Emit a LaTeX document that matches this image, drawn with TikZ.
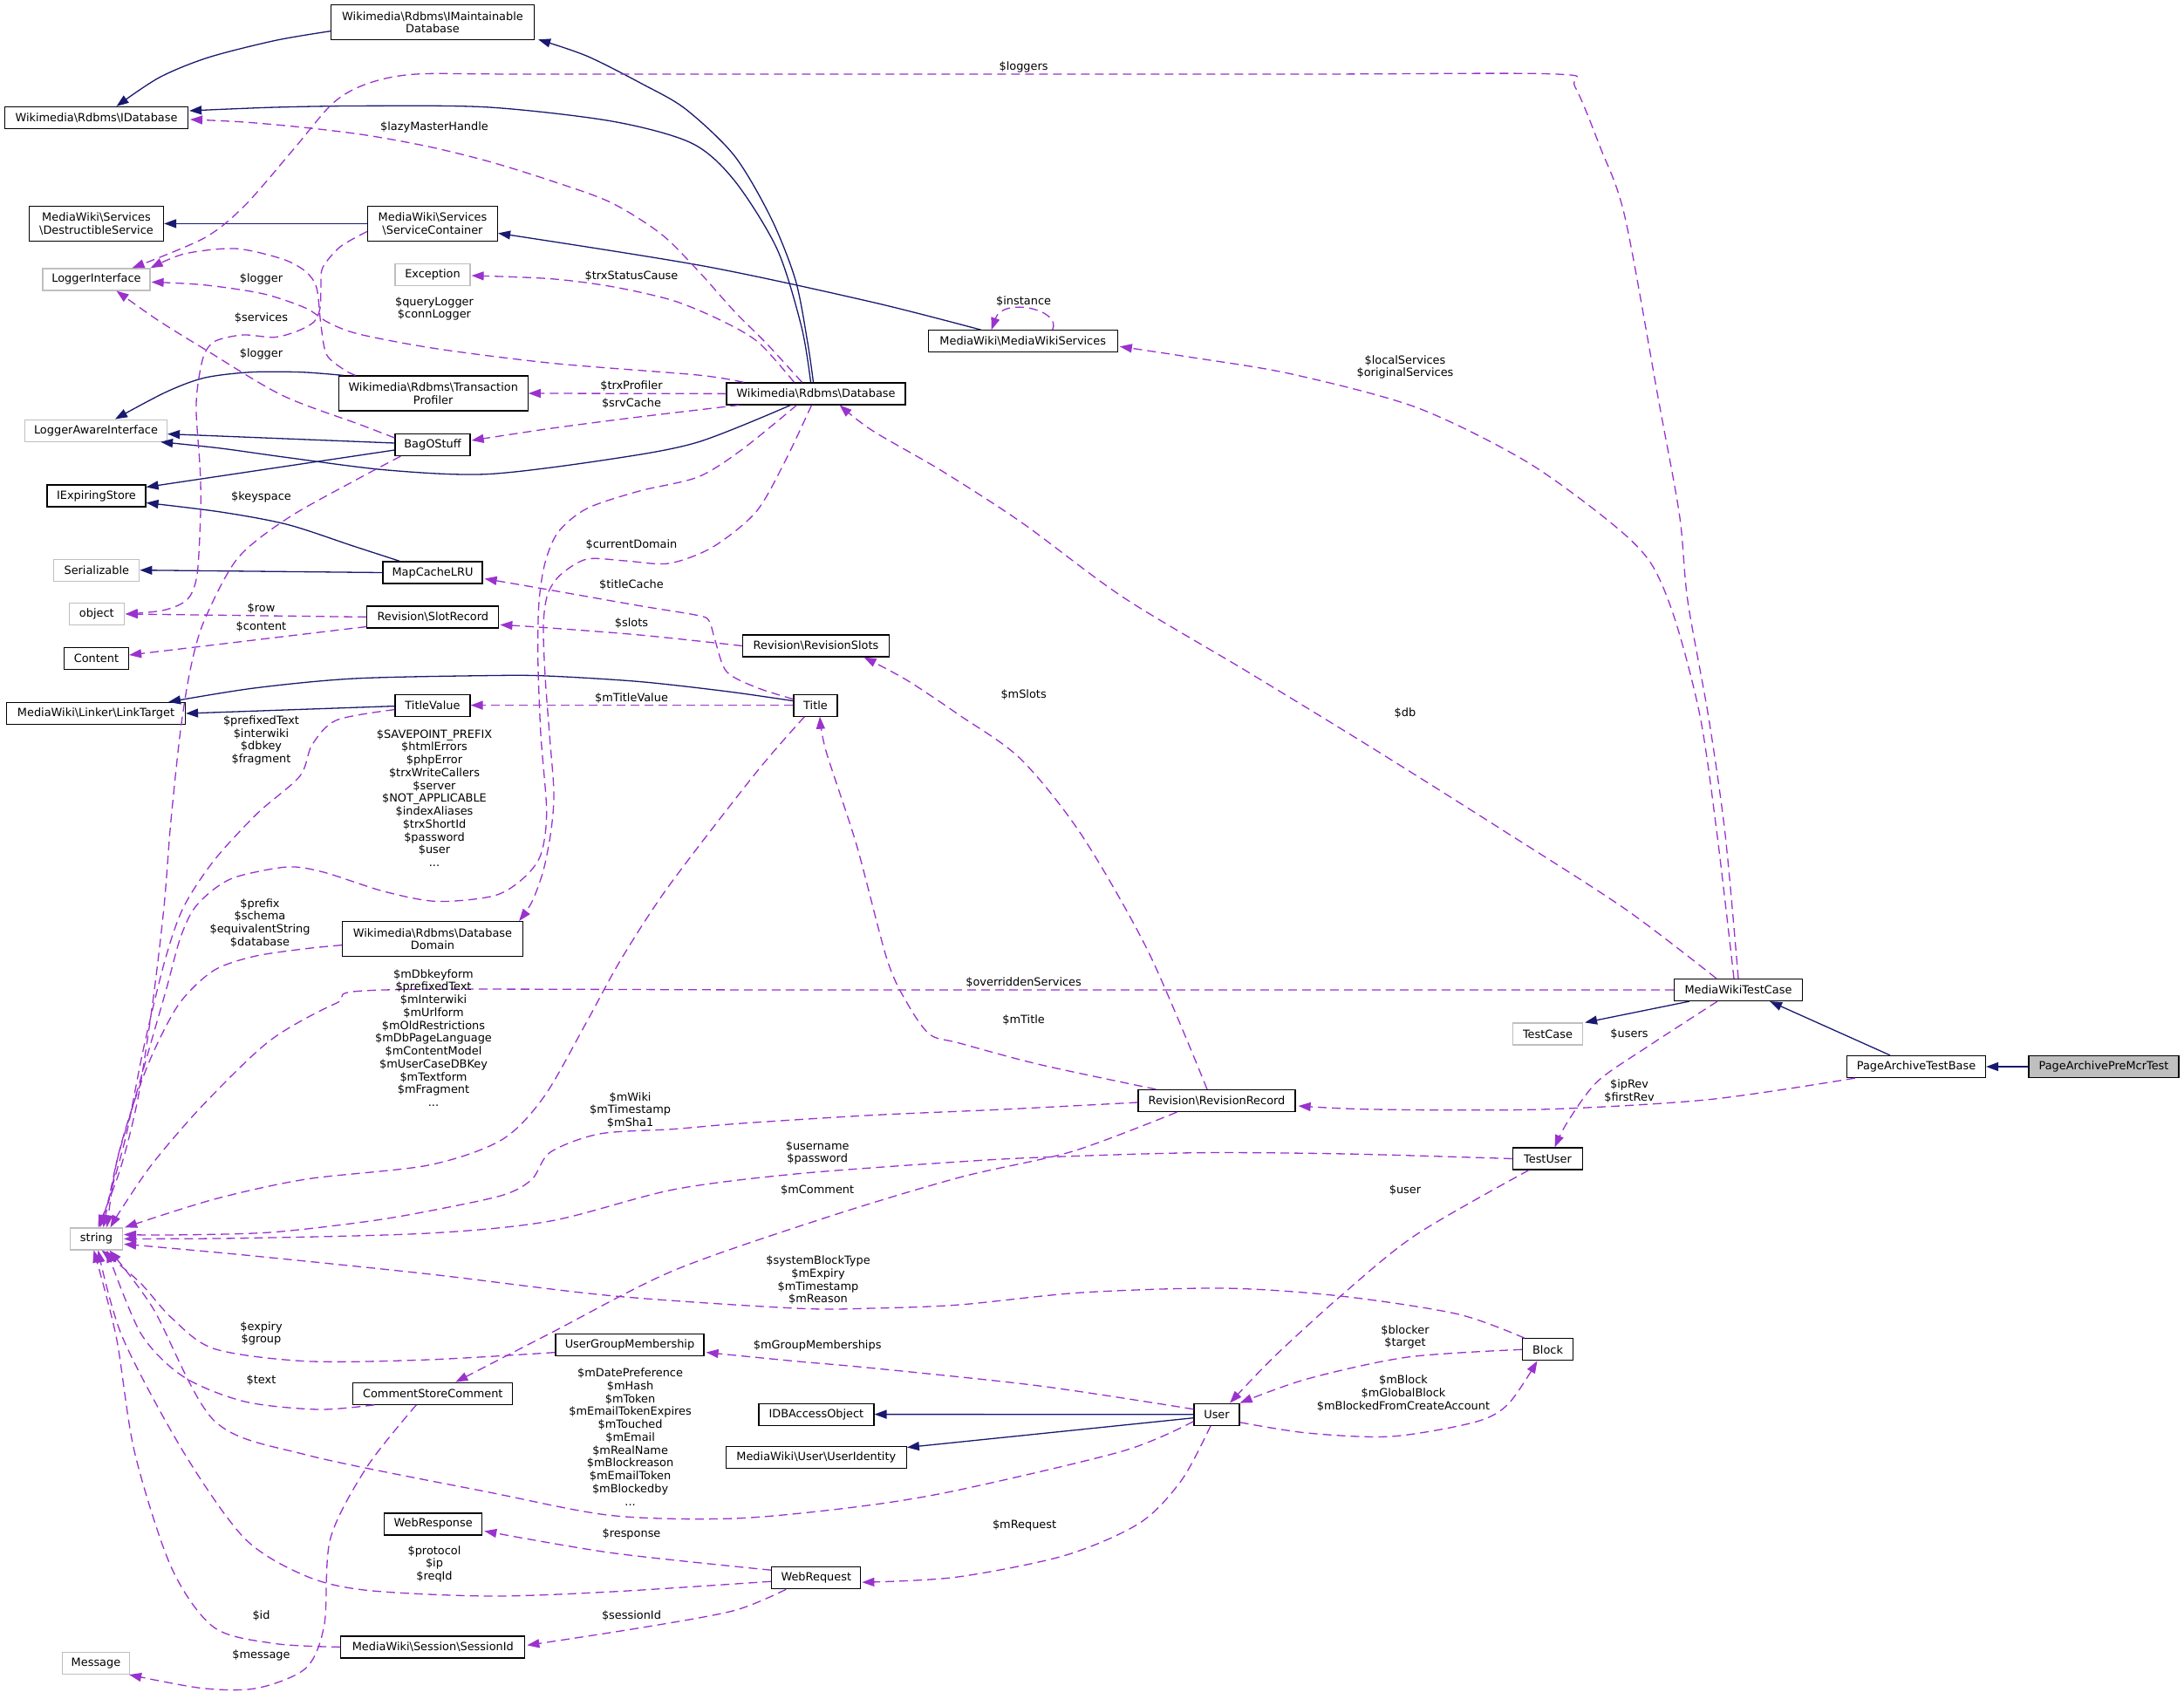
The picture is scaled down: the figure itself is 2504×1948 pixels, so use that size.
\documentclass[tikz,border=0pt]{standalone}
\usepackage{fontspec}
\newfontfamily\dvs{DejaVu Sans}
\usetikzlibrary{arrows.meta,calc}
\definecolor{inhblue}{HTML}{191970}
\definecolor{usepurple}{HTML}{9A32CD}
\definecolor{extgray}{HTML}{BFBFBF}
\definecolor{curgray}{HTML}{BFBFBF}
\newcommand{\BSL}{\textbackslash{}}
\newcommand{\lbl}{\dvs\fontsize{12.9pt}{14.75pt}\selectfont}
\tikzset{
  cls/.style={draw=black, fill=white, line width=1.2pt, inner sep=0pt, minimum height=25pt, align=center, font=\lbl},
  ext/.style={cls, draw=extgray},
  cur/.style={cls, fill=curgray},
  inh/.style={draw=inhblue, line width=1.3pt, -{Triangle[length=14pt,width=10pt]}},
  use/.style={draw=usepurple, line width=1.3pt, dash pattern=on 10pt off 6pt, -{Triangle[length=14pt,width=10pt]}},
  elbl/.style={font=\lbl, align=center, inner sep=0pt, text=black},
}
\begin{document}
\begin{tikzpicture}[x=1pt,y=-1pt]
\useasboundingbox (0,0) rectangle (2504,1948);
\fill[white] (0,0) rectangle (2504,1948);
% ---------- nodes ----------
\node[cls, minimum width=233pt, minimum height=40pt] (imdb) at (496,25.7) {Wikimedia\BSL Rdbms\BSL IMaintainable\\Database};
\node[cls, minimum width=210pt] (idb) at (110.5,135) {Wikimedia\BSL Rdbms\BSL IDatabase};
\node[cls, minimum width=154pt, minimum height=40pt] (destr) at (110.5,256.4) {MediaWiki\BSL Services\\\BSL DestructibleService};
\node[cls, minimum width=149pt, minimum height=40pt] (sc) at (496,256.4) {MediaWiki\BSL Services\\\BSL ServiceContainer};
\node[ext, minimum width=123pt] (logif) at (110.5,320.4) {LoggerInterface};
\node[ext, minimum width=86pt] (exc) at (496,315) {Exception};
\node[cls, minimum width=217pt, minimum height=40pt] (tp) at (496.7,451) {Wikimedia\BSL Rdbms\BSL Transaction\\Profiler};
\node[cls, minimum width=205pt] (db) at (935.5,451.4) {Wikimedia\BSL Rdbms\BSL Database};
\node[cls, minimum width=217pt] (mws) at (1172.7,391.3) {MediaWiki\BSL MediaWikiServices};
\node[ext, minimum width=163pt] (lai) at (110,493.6) {LoggerAwareInterface};
\node[cls, minimum width=86pt] (bag) at (496,510) {BagOStuff};
\node[cls, minimum width=113pt] (ies) at (110.5,568.5) {IExpiringStore};
\node[ext, minimum width=98pt] (ser) at (110.8,653.7) {Serializable};
\node[cls, minimum width=114pt] (mcl) at (496,656.5) {MapCacheLRU};
\node[ext, minimum width=63pt] (obj) at (110.8,704) {object};
\node[cls, minimum width=151pt] (slot) at (496.3,707.4) {Revision\BSL SlotRecord};
\node[cls, minimum width=168pt] (rslots) at (935.5,740.5) {Revision\BSL RevisionSlots};
\node[cls, minimum width=74pt] (content) at (110.5,755) {Content};
\node[cls, minimum width=205pt] (lt) at (110,818) {MediaWiki\BSL Linker\BSL LinkTarget};
\node[cls, minimum width=86pt] (tv) at (496,808.6) {TitleValue};
\node[cls, minimum width=50pt] (title) at (935,808.6) {Title};
\node[cls, minimum width=207pt, minimum height=40pt] (dd) at (496,1076.6) {Wikimedia\BSL Rdbms\BSL Database\\Domain};
\node[cls, minimum width=147pt] (mwtc) at (1993,1135) {MediaWikiTestCase};
\node[ext, minimum width=80pt] (tc) at (1774.5,1185.5) {TestCase};
\node[cls, minimum width=159pt] (patb) at (2197,1223) {PageArchiveTestBase};
\node[cur, minimum width=172pt] (pamt) at (2412,1223) {PageArchivePreMcrTest};
\node[cls, minimum width=180pt] (rr) at (1395,1262) {Revision\BSL RevisionRecord};
\node[cls, minimum width=80pt] (tu) at (1774.5,1328.5) {TestUser};
\node[ext, minimum width=60pt] (str) at (110.5,1420.4) {string};
\node[cls, minimum width=58pt] (block) at (1774.5,1547.3) {Block};
\node[cls, minimum width=170pt] (ugm) at (722,1541.6) {UserGroupMembership};
\node[cls, minimum width=183pt] (csc) at (496.3,1597.7) {CommentStoreComment};
\node[cls, minimum width=132pt] (dbao) at (935.9,1621.6) {IDBAccessObject};
\node[cls, minimum width=52pt] (user) at (1395,1621.7) {User};
\node[cls, minimum width=207pt] (uid) at (935.8,1670.6) {MediaWiki\BSL User\BSL UserIdentity};
\node[cls, minimum width=112pt] (wresp) at (496.7,1747.4) {WebResponse};
\node[cls, minimum width=102pt] (wreq) at (935.8,1809.2) {WebRequest};
\node[cls, minimum width=211pt] (sid) at (496.3,1888.4) {MediaWiki\BSL Session\BSL SessionId};
\node[ext, minimum width=77pt] (msg) at (110,1907) {Message};
% ---------- inheritance ----------
\draw[inh] plot[smooth] coordinates {($(imdb.west)+(0,10)$) (315.7,46.4) (238.5,66) (182.4,89) ($(idb.north)+(23,0)$)};
\draw[inh] plot[smooth] coordinates {($(db.north)+(-3,0)$) (926,393) (912,321) (884,250) (842,178.6) (786,125) (736.6,96.4) (673,64.3) ($(imdb.south east)+(4,-1)$)};
\draw[inh] plot[smooth] coordinates {($(db.north)+(-6,0)$) (919,375) (891,285.7) (842,207) (792.7,164) (701.5,139) (561,123) (421,121.4) (315.7,123) ($(idb.east)+(1,-8)$)};
\draw[inh] (sc.west) -- (destr.east);
\draw[inh] plot[smooth] coordinates {($(mws.north)+(-48,0)$) (1000,346.4) (806.7,305) ($(sc.east)+(0,11)$)};
\draw[inh] plot[smooth] coordinates {($(tp.north west)+(6,0)$) (345.5,426.7) (287.5,426.7) (234,433.3) (189.3,450) ($(lai.north)+(22,0)$)};
\draw[inh] ($(bag.west)+(0,-2)$) -- ($(lai.east)+(0,4)$);
\draw[inh] plot[smooth] coordinates {($(db.south)+(-29,0)$) (800,507) (700,526.4) (559,543.6) (444,539) (329.6,524.6) (253,514) ($(lai.south east)+(-8,0)$)};
\draw[inh] ($(bag.west)+(0,6)$) -- ($(ies.east)+(0,-10)$);
\draw[inh] plot[smooth] coordinates {($(mcl.north west)+(20,0)$) (406,626.4) (329.6,601.4) (253,587) ($(ies.east)+(0,8)$)};
\draw[inh] (mcl.west) -- (ser.east);
\draw[inh] plot[smooth] coordinates {($(title.west)+(0,-5)$) (833,792.7) (733,781.5) (626.7,775) (559,774.6) (406,778) (291,789) ($(lt.north east)+(-20,0)$)};
\draw[inh] ($(tv.west)+(0,1)$) -- (lt.east);
\draw[inh] (user.west) -- (dbao.east);
\draw[inh] ($(user.west)+(0,4)$) -- ($(uid.north east)+(0,2)$);
\draw[inh] ($(mwtc.south west)+(18,0)$) -- ($(tc.north east)+(2,0)$);
\draw[inh] ($(patb.north)+(-30,0)$) -- ($(mwtc.south east)+(-38,0)$);
\draw[inh] (pamt.west) -- (patb.east);
% ---------- usage ----------
% $loggers
\draw[use] plot[smooth,tension=0.5] coordinates {($(mwtc.north)+(0,0)$) (1978,957) (1959,823) (1935,689) (1925.6,591) (1901.6,459) (1863,248.8) (1834.5,168.4) (1805.7,99.5) (1784.6,85) (1500,85) (1000,85) (600,85) (477,85) (421,96) (382,118) (336.7,171) (280.6,235.7) (234,273) ($(logif.north)+(41,0)$)};
% $lazyMasterHandle
\draw[use] plot[smooth] coordinates {($(db.north)+(-16,0)$) (880,395) (842,357) (800,310) (757.6,268) (700,232) (631,207) (560,185) (491,168) (420,155) (350.8,146.4) (280,140) ($(idb.east)+(2,2)$)};
% $trxStatusCause
\draw[use] plot[smooth] coordinates {($(db.north)+(-25,0)$) (870,393) (828,368) (771.7,344.6) (701.5,328.6) (631,319.6) ($(exc.east)+(1,1)$)};
% $queryLogger $connLogger
\draw[use] plot[smooth] coordinates {($(db.north west)+(20,0)$) (800,430) (635.7,416.7) (501.8,400) (412.5,383.3) (376.8,370) (350,353) (301,336.7) (234,326.7) ($(logif.east)+(1,3)$)};
% $logger (TransactionProfiler)
\draw[use] plot[smooth] coordinates {($(tp.north west)+(20,0)$) (394.6,424) (374.5,406.7) (368,373) (363,330) (350,311) (323,296.7) (269.6,285) (211.6,291) ($(logif.north east)+(0,0)$)};
% $services
\draw[use] plot[smooth] coordinates {($(sc.west)+(0,9)$) (390,283) (370,306.7) (368,326.7) (367,353) (360,369) (340,380) (314,386.7) (278.6,384) (247,391) (234,406.7) (227,440) (225,473) (229.5,540) (230,587) (226,658.6) (215,687) (188,699.6) ($(obj.east)+(1,0)$)};
% $logger (BagOStuff)
\draw[use] plot[smooth] coordinates {($(bag.west)+(0,-8)$) (412.5,486.7) (323,453) (234,400) (180.4,366.7) ($(logif.south)+(23,0)$)};
% $trxProfiler
\draw[use] (db.west) -- (tp.east);
% $srvCache
\draw[use] plot[smooth] coordinates {($(db.south west)+(15,0)$) (733,478) (633,491) ($(bag.east)+(1,-5)$)};
% $instance
\draw[use] ($(mws.north)+(34,0)$) .. controls (1218,355) and (1150,340) .. ($(mws.north)+(-36,0)$);
% $localServices $originalServices
\draw[use] plot[smooth] coordinates {($(mwtc.north)+(-5,0)$) (1968.7,957) (1949.5,823) (1920.8,711.6) (1892,644.6) (1844,597) (1748,528) (1623.5,467) (1479.6,428.6) (1364.5,409.5) ($(mws.east)+(2,6)$)};
% $db
\draw[use] plot[smooth] coordinates {($(mwtc.north west)+(49,0)$) (1863,1042) (1720,950) (1575.5,859) (1430,770) (1287.7,684.8) (1172.6,600) (1080,540) (1000,493.6) ($(db.south east)+(-76,0)$)};
% $currentDomain
\draw[use] plot[smooth] coordinates {($(db.south)+(-5,0)$) (900,529) (866.7,587) (816.7,627.5) (766.7,646) (716.7,643) (673,641) (643,658.7) (628,681) (623,716.8) (625,775) (630,842) (635,909) (631.7,953) (623,998) (610,1033.8) ($(dd.north east)+(-5,0)$)};
% $SAVEPOINT_PREFIX ...
\draw[use] plot[smooth] coordinates {($(db.south)+(-22,0)$) (850,516) (800,547) (733,563) (673,583) (640,610) (625,645) (618,690) (616.7,752.5) (620,842) (626.7,931) (620,980) (600,1007) (566.7,1027) (501,1033.5) (440,1022) (371,1000) (329.6,994) (272,1005) (244.6,1020) (221.6,1043) (206.3,1076.7) (191,1133) (171.8,1200) (152.7,1266.7) (133.6,1333) ($(str.north)+(8,0)$)};
% $keyspace
\draw[use] plot[smooth] coordinates {($(bag.south west)+(7,0)$) (406,551.4) (329.6,594.3) (272,640.7) (234,712) (218.6,765.7) (207,837) (195.7,944) (188,1040) (175,1150) (158,1260) (138,1340) ($(str.north)+(2,0)$)};
% $titleCache
\draw[use] plot[smooth] coordinates {($(title.west)+(0,-7)$) (866.7,788) (833,770) (820,734.6) (813,712) (800,705.6) (733,694.5) (616.7,674) ($(mcl.east)+(2,7)$)};
% $slots
\draw[use] plot[smooth] coordinates {(rslots.west) (733,728) (616.7,719) ($(slot.east)+(1,9)$)};
% $mTitleValue
\draw[use] (title.west) -- (tv.east);
% $row
\draw[use] (slot.west) -- ($(obj.east)+(1,0)$);
% $content
\draw[use] ($(slot.south west)+(0,-2)$) -- ($(content.east)+(0,-4)$);
% $mSlots
\draw[use] plot[smooth] coordinates {($(rr.north)+(-11,0)$) (1316.5,1091) (1239.8,957) (1170,870) (1100,820) (1040,780) ($(rslots.south)+(55,0)$)};
% $mTitle
\draw[use] plot[smooth] coordinates {($(rr.north west)+(21,0)$) (1191.8,1220.5) (1100,1196) (1066,1186) (1040,1150) (1017,1100) (982,968.6) (947,861) ($(title.south)+(5,0)$)};
% $prefixedText ...
\draw[use] plot[smooth] coordinates {($(tv.west)+(0,5)$) (385.8,825.7) (357.8,854) (343.7,890) (294.6,933) (245.5,986.4) (210.5,1040) (189.4,1100) (165,1200) (145,1300) (126,1370) ($(str.north)+(4,0)$)};
% $prefix ...
\draw[use] plot[smooth] coordinates {($(dd.west)+(0,7)$) (348,1088) (290.5,1096.7) (244.6,1113) (206,1150) (175.7,1206.7) (152.7,1266.7) (133.6,1333) ($(str.north)+(12,0)$)};
% $overriddenServices
\draw[use] plot[smooth,tension=0.5] coordinates {(mwtc.west) (1500,1135) (900,1135) (439.7,1135) (386,1150) (309.6,1193) (233,1266.7) (175.7,1333) (140,1385) ($(str.north)+(16,0)$)};
% $mDbkeyform ...
\draw[use] plot[smooth] coordinates {($(title.south west)+(13,0)$) (866.7,886) (766.7,1016) (712,1100) (673,1171) (624,1257) (575,1307) (491,1336) (351,1352) (245.5,1375) ($(str.north east)+(2,0)$)};
% $mWiki ...
\draw[use] plot[smooth] coordinates {($(rr.west)+(0,2)$) (1150,1272) (1000,1278.6) (850,1288) (771.7,1294.6) (687.5,1300) (631,1321) (610,1352) (577.5,1370) (501,1386.7) (424.4,1400) (309.6,1413) (194.8,1416) ($(str.east)+(1,-5)$)};
% $username $password
\draw[use] plot[smooth] coordinates {(tu.west) (1544,1323) (1372,1321.7) (1200,1326.7) (1100,1332) (912,1346) (771.7,1364) (631,1400) (491,1414) (280.6,1419.6) ($(str.east)+(1,0)$)};
% $systemBlockType ...
\draw[use] plot[smooth] coordinates {($(block.north west)+(3,0)$) (1671,1506.6) (1537,1486) (1403,1477) (1240,1482) (1100,1496) (1000,1500) (912,1500) (701.5,1485.7) (491,1460.7) (280.6,1439) ($(str.east)+(1,6)$)};
% $expiry $group
\draw[use] plot[smooth] coordinates {($(ugm.west)+(0,9)$) (491,1559) (351,1560.7) (245.5,1546.4) (196.4,1510.7) (160,1470) ($(str.south)+(6,0)$)};
% $text
\draw[use] plot[smooth] coordinates {($(csc.south west)+(25,0)$) (364.8,1616) (280.6,1607) (210.5,1578.6) (161.3,1528.6) ($(str.south)+(12,0)$)};
% $mDatePreference ...
\draw[use] plot[smooth] coordinates {($(user.west)+(0,8)$) (1287.7,1663.6) (1096,1709) (982,1727.7) (841.8,1741) (701.5,1737.6) (561,1711) (350.8,1668) (245.5,1628.7) (175.4,1500) ($(str.south)+(15,0)$)};
% $protocol $ip $reqId
\draw[use] plot[smooth] coordinates {($(wreq.west)+(0,4)$) (701.5,1825) (561,1830) (421,1823.4) (350.8,1807) (280.6,1764) (210.5,1665) (140.3,1533) ($(str.south)+(2,0)$)};
% $id
\draw[use] plot[smooth] coordinates {(sid.west) (315.7,1884.5) (245.5,1866) (196.4,1797) (154.3,1665) (133.3,1533) ($(str.south)+(-3,0)$)};
% $mGroupMemberships
\draw[use] plot[smooth] coordinates {($(user.west)+(0,-6)$) (1191.8,1589) (1000,1568.6) (912,1560.7) ($(ugm.east)+(2,9)$)};
% $mComment
\draw[use] plot[smooth] coordinates {($(rr.south west)+(45,0)$) (1230,1320) (1100,1350) (947,1396) (771.7,1457) (631,1528.6) ($(csc.north)+(26,0)$)};
% $ipRev $firstRev
\draw[use] plot[smooth] coordinates {($(patb.south west)+(10,0)$) (1959,1260.7) (1767,1272) (1575.5,1272) ($(rr.east)+(3,6)$)};
% $users
\draw[use] plot[smooth] coordinates {($(mwtc.south)+(-24,0)$) (1889,1200) (1831.5,1240) (1797,1286.7) ($(tu.north)+(8,0)$)};
% $user
\draw[use] plot[smooth] coordinates {($(tu.south west)+(19,0)$) (1623.5,1415.7) (1537,1486) (1460.4,1556) ($(user.north)+(15,0)$)};
% $blocker $target
\draw[use] plot[smooth] coordinates {(block.west) (1613.8,1556) (1498.7,1581) ($(user.north east)+(0,0)$)};
% $mBlock ...
\draw[use] plot[smooth] coordinates {($(user.south east)+(0,-4)$) (1498.7,1643) (1594.7,1647) (1690.6,1630.6) (1729,1610) ($(block.south)+(-12,0)$)};
% $mRequest
\draw[use] plot[smooth] coordinates {($(user.south)+(-7,0)$) (1355,1696.7) (1307,1746) (1220.6,1783.5) (1096,1808.3) ($(wreq.east)+(1,5)$)};
% $response
\draw[use] plot[smooth] coordinates {($(wreq.west)+(0,-9)$) (701.5,1780.5) ($(wresp.east)+(2,8)$)};
% $sessionId
\draw[use] plot[smooth] coordinates {($(wreq.south west)+(17,0)$) (842,1846.5) (736.6,1866) ($(sid.east)+(2,-2)$)};
% $message
\draw[use] plot[smooth] coordinates {($(csc.south)+(-19,0)$) (421,1681.5) (378.8,1764) (371.8,1863) (350.8,1912.5) (294.6,1935.6) (231.5,1935.6) ($(msg.south east)+(-1,0)$)};
% ---------- labels ----------
\node[elbl] (l1) at (1173.6,76.5) {\$loggers};
\node[elbl] (l2) at (498,145.7) {\$lazyMasterHandle};
\node[elbl] (l3) at (299.5,320.4) {\$logger};
\node[elbl] (l4) at (299.5,364.3) {\$services};
\node[elbl] (l5) at (299.5,406.4) {\$logger};
\node[elbl] (l6) at (498,354) {\$queryLogger\\\$connLogger};
\node[elbl] (l7) at (724,316.8) {\$trxStatusCause};
\node[elbl] (l8) at (1173.6,345.6) {\$instance};
\node[elbl] (l9) at (1611,421) {\$localServices\\\$originalServices};
\node[elbl] (l10) at (724,442.9) {\$trxProfiler};
\node[elbl] (l11) at (724,462.9) {\$srvCache};
\node[elbl] (l12) at (299.5,569.6) {\$keyspace};
\node[elbl] (l13) at (724,624.6) {\$currentDomain};
\node[elbl] (l14) at (724,670.4) {\$titleCache};
\node[elbl] (l15) at (299.5,697.5) {\$row};
\node[elbl] (l16) at (299.5,718.6) {\$content};
\node[elbl] (l17) at (724,714.6) {\$slots};
\node[elbl] (l18) at (1173.6,796.4) {\$mSlots};
\node[elbl] (l19) at (1611,817.4) {\$db};
\node[elbl] (l20) at (724,800.7) {\$mTitleValue};
\node[elbl] (l21) at (299.5,849) {\$prefixedText\\\$interwiki\\\$dbkey\\\$fragment};
\node[elbl] (l22) at (498,915) {\$SAVEPOINT\_PREFIX\\\$htmlErrors\\\$phpError\\\$trxWriteCallers\\\$server\\\$NOT\_APPLICABLE\\\$indexAliases\\\$trxShortId\\\$password\\\$user\\...};
\node[elbl] (l23) at (298,1058.4) {\$prefix\\\$schema\\\$equivalentString\\\$database};
\node[elbl] (l24) at (1173.6,1126.8) {\$overriddenServices};
\node[elbl] (l25) at (497,1190) {\$mDbkeyform\\\$prefixedText\\\$mInterwiki\\\$mUrlform\\\$mOldRestrictions\\\$mDbPageLanguage\\\$mContentModel\\\$mUserCaseDBKey\\\$mTextform\\\$mFragment\\...};
\node[elbl] (l26) at (1173.6,1170) {\$mTitle};
\node[elbl] (l27) at (1868,1185.7) {\$users};
\node[elbl] (l28) at (1868,1251) {\$ipRev\\\$firstRev};
\node[elbl] (l29) at (722.6,1273) {\$mWiki\\\$mTimestamp\\\$mSha1};
\node[elbl] (l30) at (937.2,1322) {\$username\\\$password};
\node[elbl] (l31) at (937.2,1364.6) {\$mComment};
\node[elbl] (l32) at (1611,1364.5) {\$user};
\node[elbl] (l33) at (938,1467.7) {\$systemBlockType\\\$mExpiry\\\$mTimestamp\\\$mReason};
\node[elbl] (l34) at (1611,1533) {\$blocker\\\$target};
\node[elbl] (l35) at (299.5,1529) {\$expiry\\\$group};
\node[elbl] (l36) at (937.2,1542.9) {\$mGroupMemberships};
\node[elbl] (l37) at (299.5,1582.5) {\$text};
\node[elbl] (l38) at (722.6,1647.5) {\$mDatePreference\\\$mHash\\\$mToken\\\$mEmailTokenExpires\\\$mTouched\\\$mEmail\\\$mRealName\\\$mBlockreason\\\$mEmailToken\\\$mBlockedby\\...};
\node[elbl] (l39) at (1609,1597.5) {\$mBlock\\\$mGlobalBlock\\\$mBlockedFromCreateAccount};
\node[elbl] (l40) at (1174.6,1748.8) {\$mRequest};
\node[elbl] (l41) at (724,1759) {\$response};
\node[elbl] (l42) at (498,1793.4) {\$protocol\\\$ip\\\$reqId};
\node[elbl] (l43) at (299.5,1853) {\$id};
\node[elbl] (l44) at (724,1853) {\$sessionId};
\node[elbl] (l45) at (299.5,1898) {\$message};
\end{tikzpicture}
\end{document}
